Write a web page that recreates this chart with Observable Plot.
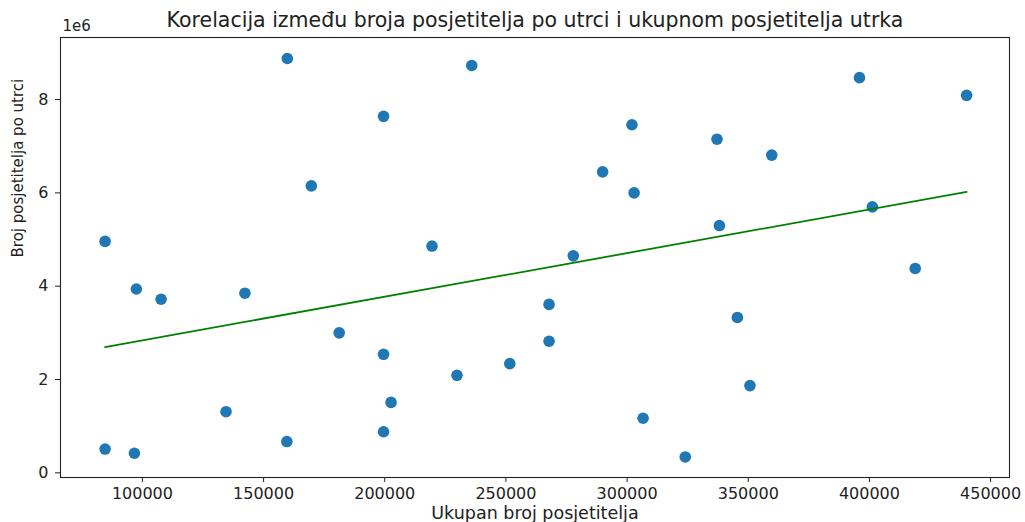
<!DOCTYPE html>
<html>
<head>
<meta charset="utf-8">
<script src="https://cdn.jsdelivr.net/npm/d3@7"></script>
<script src="https://cdn.jsdelivr.net/npm/@observablehq/plot@0.6"></script>
<style>
  html, body { margin: 0; padding: 0; background: #fff; }
  #chart svg { display: block; }
</style>
</head>
<body>
<div id="chart"></div>
<script>
// Ukupan broj posjetitelja (x)
const ukupanBroj = [84600, 84600, 96700, 97500, 107700, 134500, 142300, 159800, 159600, 169700,
  181200, 199500, 199500, 199500, 202600, 219500, 229800, 235900, 251600, 267800,
  267800, 277800, 289900, 302000, 302900, 306600, 324000, 337100, 338100, 345500,
  350700, 359700, 395900, 401200, 418900, 440100];
// Broj posjetitelja po utrci (y), u milijunima
const poUtrciMil = [4.96, 0.51, 0.42, 3.94, 3.72, 1.31, 3.85, 8.88, 0.67, 6.15,
  3.00, 7.64, 2.54, 0.88, 1.51, 4.86, 2.09, 8.73, 2.34, 3.61,
  2.82, 4.65, 6.45, 7.46, 6.00, 1.17, 0.34, 7.15, 5.30, 3.33,
  1.87, 6.81, 8.47, 5.70, 4.38, 8.09];
const xTicks = [100000, 150000, 200000, 250000, 300000, 350000, 400000, 450000];
const yTicks = [0, 2e6, 4e6, 6e6, 8e6];

const title = "Korelacija između broja posjetitelja po utrci i ukupnom posjetitelja utrka";
const xLabel = "Ukupan broj posjetitelja";
const yLabel = "Broj posjetitelja po utrci";

const data = ukupanBroj.map((x, i) => ({x, y: poUtrciMil[i] * 1e6}));

const font = "DejaVu Sans, sans-serif";

const chart = Plot.plot({
  width: 1025,
  height: 522,
  marginTop: 37,
  marginBottom: 45,
  marginLeft: 60,
  marginRight: 16,
  style: {fontFamily: font, background: "#fff", color: "#222"},
  x: {domain: [66200, 457800]},
  y: {domain: [-0.1e6, 9.33e6]},
  marks: [
    Plot.dot(data, {x: "x", y: "y", r: 5.8, fill: "#1f77b4", stroke: "none"}),
    Plot.linearRegressionY(data, {x: "x", y: "y", ci: 0, stroke: "green", strokeWidth: 1.8}),
    Plot.frame({stroke: "#222", strokeWidth: 1.1}),
    Plot.axisX({ticks: xTicks, tickFormat: d => String(d), tickSize: 5, tickPadding: 5, fontSize: 16, label: null, stroke: "#222"}),
    Plot.axisY({ticks: yTicks, tickFormat: d => String(d / 1e6), tickSize: 5, tickPadding: 7, fontSize: 16, label: null, stroke: "#222"}),
    Plot.text([title], {frameAnchor: "top", dy: -17, fontSize: 20.5, fill: "#222", lineAnchor: "middle"}),
    Plot.text(["1e6"], {frameAnchor: "top-left", dx: 2, dy: -11, fontSize: 15, fill: "#222", textAnchor: "start", lineAnchor: "middle"}),
    Plot.text([xLabel], {frameAnchor: "bottom", dy: 36, fontSize: 17.5, fill: "#222", lineAnchor: "middle"}),
    Plot.text([yLabel], {frameAnchor: "left", dx: -42, rotate: -90, fontSize: 15, fill: "#222", lineAnchor: "middle"})
  ]
});
document.getElementById("chart").appendChild(chart);
</script>
</body>
</html>
